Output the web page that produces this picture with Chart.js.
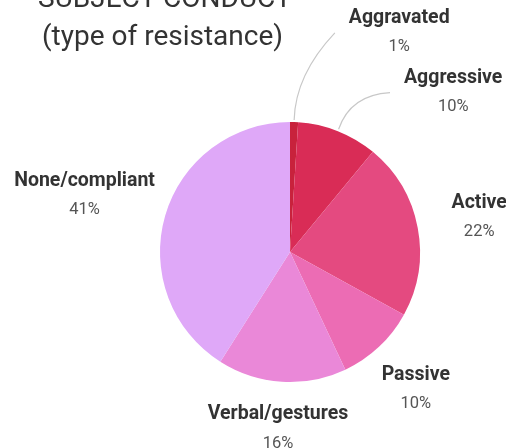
<!DOCTYPE html>
<html>
<head>
<meta charset="utf-8">
<script src="https://cdn.jsdelivr.net/npm/chart.js@4"></script>
<style>
  html, body { margin: 0; padding: 0; background: #fff; }
  #wrap { width: 506px; height: 448px; position: relative; }
</style>
</head>
<body>
<div id="wrap"><canvas id="c" width="506" height="448"></canvas></div>
<script>
const titleLines = ["SUBJECT CONDUCT", "(type of resistance)"];
const categories = ["Aggravated", "Aggressive", "Active", "Passive", "Verbal/gestures", "None/compliant"];
const values = [1, 10, 22, 10, 16, 41];
const percentLabels = ["1%", "10%", "22%", "10%", "16%", "41%"];

const colors = ["#c8223c", "#d92c56", "#e44a80", "#ec6cb4", "#ea88d8", "#dfa8f8"];
// label placement (angle in degrees clockwise from top, distance as a fraction of radius)
const labelPlacement = [
  { angle: 26.4, dist: 1.89, leader: true, cxr: 0.03, cyr: 0.48 },
  { angle: 45.5, dist: 1.76, leader: true, cxr: 0.23, cyr: 0.06 },
  { angle: 79.5, dist: 1.48, leader: false },
  { angle: 137.4, dist: 1.43, leader: false },
  { angle: 183.9, dist: 1.36, leader: false },
  { angle: 285.5, dist: 1.64, leader: false }
];

const labelFont = 'bold 19.5px "Roboto", "DejaVu Sans", sans-serif';
const pctFont = '16.5px "Roboto", "DejaVu Sans", sans-serif';

const labelPlugin = {
  id: 'pieLabels',
  afterDatasetsDraw(chart) {
    const ctx = chart.ctx;
    const meta = chart.getDatasetMeta(0);
    ctx.save();
    // title
    ctx.fillStyle = '#333333';
    ctx.textAlign = 'left';
    ctx.textBaseline = 'alphabetic';
    ctx.font = '28px "Roboto", sans-serif';
    ctx.fillText(titleLines[0], 38, 7);
    ctx.fillText(titleLines[1], 42, 45);

    meta.data.forEach((arc, i) => {
      const p = arc.getProps(['x', 'y', 'startAngle', 'endAngle', 'outerRadius'], true);
      const r = p.outerRadius;
      const pl = labelPlacement[i];
      const a = pl.angle * Math.PI / 180;
      const lx = p.x + Math.sin(a) * r * pl.dist;
      const ly = p.y - Math.cos(a) * r * pl.dist;

      ctx.font = labelFont;
      const w = ctx.measureText(categories[i]).width;

      if (pl.leader) {
        const mid = (p.startAngle + p.endAngle) / 2;
        const sx = p.x + Math.cos(mid) * (r + 2);
        const sy = p.y + Math.sin(mid) * (r + 2);
        const ex = lx - w / 2 - 14;
        const ey = ly + 1;
        const cx = sx + (ex - sx) * pl.cxr;
        const cy = ey + (sy - ey) * pl.cyr;
        ctx.strokeStyle = '#c8c8c8';
        ctx.lineWidth = 1.2;
        ctx.beginPath();
        ctx.moveTo(sx, sy);
        ctx.quadraticCurveTo(cx, cy, ex, ey);
        ctx.stroke();
      }

      ctx.textAlign = 'center';
      ctx.textBaseline = 'middle';
      ctx.fillStyle = '#333333';
      ctx.font = labelFont;
      ctx.fillText(categories[i], lx, ly - 14);
      ctx.fillStyle = '#555555';
      ctx.font = pctFont;
      ctx.fillText(percentLabels[i], lx, ly + 15);
    });
    ctx.restore();
  }
};

new Chart(document.getElementById('c'), {
  type: 'pie',
  data: {
    labels: categories,
    datasets: [{
      data: values,
      backgroundColor: colors,
      borderWidth: 0
    }]
  },
  options: {
    responsive: false,
    animation: false,
    layout: { padding: { top: 122, bottom: 66, left: 160, right: 86 } },
    plugins: {
      legend: { display: false },
      tooltip: { enabled: false },
      title: { display: false }
    }
  },
  plugins: [labelPlugin]
});
</script>
</body>
</html>
